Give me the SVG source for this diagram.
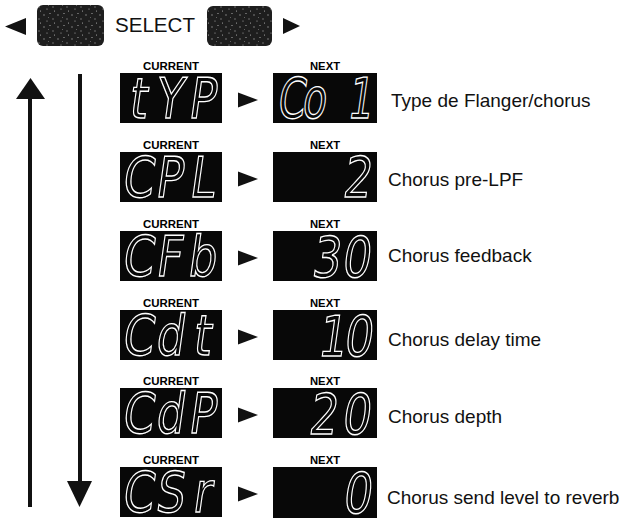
<svg xmlns="http://www.w3.org/2000/svg" width="632" height="526" viewBox="0 0 632 526">
<style>
.lbl{font-family:"Liberation Sans",Arial,sans-serif;font-weight:bold;font-size:10px;fill:#000;text-anchor:middle}
.desc{font-family:"Liberation Sans",Arial,sans-serif;font-size:19px;fill:#111}
.sel{font-family:"Liberation Sans",Arial,sans-serif;font-size:20px;fill:#111}
.disp{fill:#080808}
.lcd{font-family:"DejaVu Sans","Liberation Sans",sans-serif;font-size:56px;fill:none;stroke:#fff;stroke-width:1.4;text-anchor:middle}
.arr{fill:#111}
.btn{fill:url(#speck)}
</style>
<defs>
<pattern id="speck" width="14" height="12" patternUnits="userSpaceOnUse">
<rect width="14" height="12" fill="#1e1e1e"/>
<circle cx="2" cy="3" r="0.7" fill="#9a9a9a"/>
<circle cx="8" cy="1.5" r="0.6" fill="#bbb"/>
<circle cx="11" cy="7" r="0.7" fill="#888"/>
<circle cx="5" cy="9" r="0.6" fill="#aaa"/>
<circle cx="12.5" cy="11" r="0.5" fill="#ccc"/>
<circle cx="6.5" cy="5.5" r="0.5" fill="#777"/>
</pattern>
<g id="curLbl"><text class="lbl" textLength="56" lengthAdjust="spacingAndGlyphs">CURRENT</text></g>
<g id="nextLbl"><text class="lbl" textLength="30" lengthAdjust="spacingAndGlyphs">NEXT</text></g>
</defs>

<g id="select">
<path class="arr" d="M5,26.5 L26,18 L26,35 Z"/>
<rect class="btn" x="37" y="5" width="67" height="41" rx="6"/>
<text class="sel" x="115" y="32" textLength="80" lengthAdjust="spacingAndGlyphs">SELECT</text>
<rect class="btn" x="207" y="6" width="65" height="40" rx="6"/>
<path class="arr" d="M300,26 L283,18 L283,34 Z"/>
</g>

<g id="connectors">
<rect class="arr" x="28" y="96" width="4" height="411"/>
<path class="arr" d="M16,99 L45,99 L30.5,78 Z"/>
<rect class="arr" x="78" y="74" width="4" height="410"/>
<path class="arr" d="M67,481 L92,481 L79.5,507 Z"/>
<path class="arr" d="M238,92.5 L238,107.5 L258,100 Z"/>
<path class="arr" d="M238,171.5 L238,186.5 L258,179 Z"/>
<path class="arr" d="M238,250.5 L238,265.5 L258,258 Z"/>
<path class="arr" d="M238,329.5 L238,344.5 L258,337 Z"/>
<path class="arr" d="M238,407.5 L238,422.5 L258,415 Z"/>
<path class="arr" d="M238,486.5 L238,501.5 L258,494 Z"/>
</g>

<g id="row-typ">
<use href="#curLbl" x="171" y="70"/>
<rect class="disp" x="120" y="73" width="102" height="50"/>
<text class="lcd" transform="translate(137,118) skewX(-8) scale(0.8,1)">t</text>
<text class="lcd" transform="translate(168,118) skewX(-8) scale(0.8,1)">Y</text>
<text class="lcd" transform="translate(201,118) skewX(-8) scale(0.8,1)">P</text>
<use href="#nextLbl" x="325" y="70"/>
<rect class="disp" x="273" y="73" width="104" height="50"/>
<text class="lcd" transform="translate(290,118) skewX(-8) scale(0.7,1)">C</text>
<text class="lcd" transform="translate(313,118) skewX(-8) scale(0.7,1)">o</text>
<text class="lcd" transform="translate(359,118) skewX(-8) scale(0.7,1)">1</text>
<text class="desc" x="391" y="107">Type de Flanger/chorus</text>
</g>

<g id="row-cpl">
<use href="#curLbl" x="171" y="149"/>
<rect class="disp" x="120" y="152" width="102" height="50"/>
<text class="lcd" transform="translate(137,197) skewX(-8) scale(0.8,1)">C</text>
<text class="lcd" transform="translate(168,197) skewX(-8) scale(0.8,1)">P</text>
<text class="lcd" transform="translate(201,197) skewX(-8) scale(0.8,1)">L</text>
<use href="#nextLbl" x="325" y="149"/>
<rect class="disp" x="273" y="152" width="104" height="50"/>
<text class="lcd" transform="translate(356,197) skewX(-8) scale(0.8,1)">2</text>
<text class="desc" x="388" y="186">Chorus pre-LPF</text>
</g>

<g id="row-cfb">
<use href="#curLbl" x="171" y="228"/>
<rect class="disp" x="120" y="231" width="102" height="50"/>
<text class="lcd" transform="translate(137,276) skewX(-8) scale(0.8,1)">C</text>
<text class="lcd" transform="translate(168,276) skewX(-8) scale(0.8,1)">F</text>
<text class="lcd" transform="translate(201,276) skewX(-8) scale(0.8,1)">b</text>
<use href="#nextLbl" x="325" y="228"/>
<rect class="disp" x="273" y="231" width="104" height="50"/>
<text class="lcd" transform="translate(325,277) skewX(-8) scale(0.8,1)">3</text>
<text class="lcd" transform="translate(355,277) skewX(-8) scale(0.8,1)">0</text>
<text class="desc" x="388" y="262">Chorus feedback</text>
</g>

<g id="row-cdt">
<use href="#curLbl" x="171" y="307"/>
<rect class="disp" x="120" y="310" width="102" height="50"/>
<text class="lcd" transform="translate(137,355) skewX(-8) scale(0.8,1)">C</text>
<text class="lcd" transform="translate(169,355) skewX(-8) scale(0.8,1)">d</text>
<text class="lcd" transform="translate(201,355) skewX(-8) scale(0.8,1)">t</text>
<use href="#nextLbl" x="325" y="307"/>
<rect class="disp" x="273" y="310" width="104" height="50"/>
<text class="lcd" transform="translate(331,356) skewX(-8) scale(0.8,1)">1</text>
<text class="lcd" transform="translate(357,356) skewX(-8) scale(0.8,1)">0</text>
<text class="desc" x="388" y="346">Chorus delay time</text>
</g>

<g id="row-cdp">
<use href="#curLbl" x="171" y="385"/>
<rect class="disp" x="120" y="388" width="102" height="50"/>
<text class="lcd" transform="translate(137,433) skewX(-8) scale(0.8,1)">C</text>
<text class="lcd" transform="translate(169,433) skewX(-8) scale(0.8,1)">d</text>
<text class="lcd" transform="translate(201,433) skewX(-8) scale(0.8,1)">P</text>
<use href="#nextLbl" x="325" y="385"/>
<rect class="disp" x="273" y="388" width="104" height="50"/>
<text class="lcd" transform="translate(322,434) skewX(-8) scale(0.8,1)">2</text>
<text class="lcd" transform="translate(355,434) skewX(-8) scale(0.8,1)">0</text>
<text class="desc" x="388" y="423">Chorus depth</text>
</g>

<g id="row-csr">
<use href="#curLbl" x="171" y="464"/>
<rect class="disp" x="120" y="467" width="102" height="50"/>
<text class="lcd" transform="translate(137,512) skewX(-8) scale(0.8,1)">C</text>
<text class="lcd" transform="translate(169,512) skewX(-8) scale(0.8,1)">S</text>
<text class="lcd" transform="translate(201,512) skewX(-8) scale(0.8,1)">r</text>
<use href="#nextLbl" x="325" y="464"/>
<rect class="disp" x="273" y="467" width="104" height="51"/>
<text class="lcd" transform="translate(356,513) skewX(-8) scale(0.8,1)">0</text>
<text class="desc" x="387" y="504">Chorus send level to reverb</text>
</g>
</svg>
